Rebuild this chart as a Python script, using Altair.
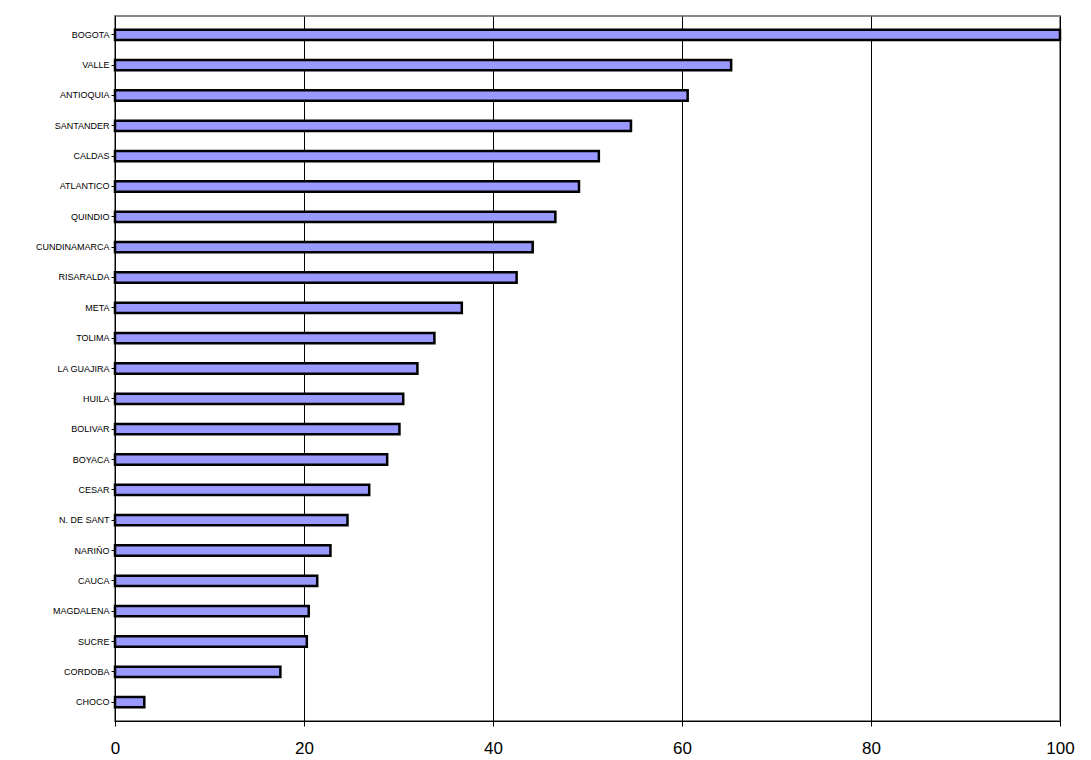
import pandas as pd
import altair as alt

regions = ["BOGOTA", "VALLE", "ANTIOQUIA", "SANTANDER", "CALDAS", "ATLANTICO",
           "QUINDIO", "CUNDINAMARCA", "RISARALDA", "META", "TOLIMA", "LA GUAJIRA",
           "HUILA", "BOLIVAR", "BOYACA", "CESAR", "N. DE SANT", "NARIÑO", "CAUCA",
           "MAGDALENA", "SUCRE", "CORDOBA", "CHOCO"]
values = [100, 65.2, 60.6, 54.6, 51.2, 49.1, 46.6, 44.2, 42.5, 36.7, 33.8, 32.0,
          30.5, 30.1, 28.8, 26.9, 24.6, 22.8, 21.4, 20.5, 20.3, 17.5, 3.1]

df = pd.DataFrame({"region": regions, "value": values})

chart = alt.Chart(df).mark_bar(
    color="#9999FF", stroke="black", strokeWidth=2.5
).encode(
    x=alt.X("value:Q", scale=alt.Scale(domain=[0, 100], nice=False),
            axis=alt.Axis(title=None, values=[0, 20, 40, 60, 80, 100], grid=True,
                          gridColor="black", gridWidth=1, labelFontSize=17,
                          labelColor="black", labelPadding=14, tickColor="black",
                          domainColor="black", labelFont="Liberation Sans",
                          labelFlush=False)),
    y=alt.Y("region:N", sort=regions,
            scale=alt.Scale(paddingInner=0.66, paddingOuter=0.45),
            axis=alt.Axis(title=None, labelFontSize=9, labelColor="black",
                          tickColor="black", tickSize=4, domainColor="black",
                          labelFont="Liberation Sans", grid=False)),
).properties(
    width=945, height=705,
    autosize=alt.AutoSizeParams(type="none"),
    padding={"left": 107, "top": 8, "right": 20, "bottom": 40},
).configure_view(stroke="#888888", strokeWidth=2)

chart.save("out.html", embed_options={"renderer": "svg", "actions": False})
